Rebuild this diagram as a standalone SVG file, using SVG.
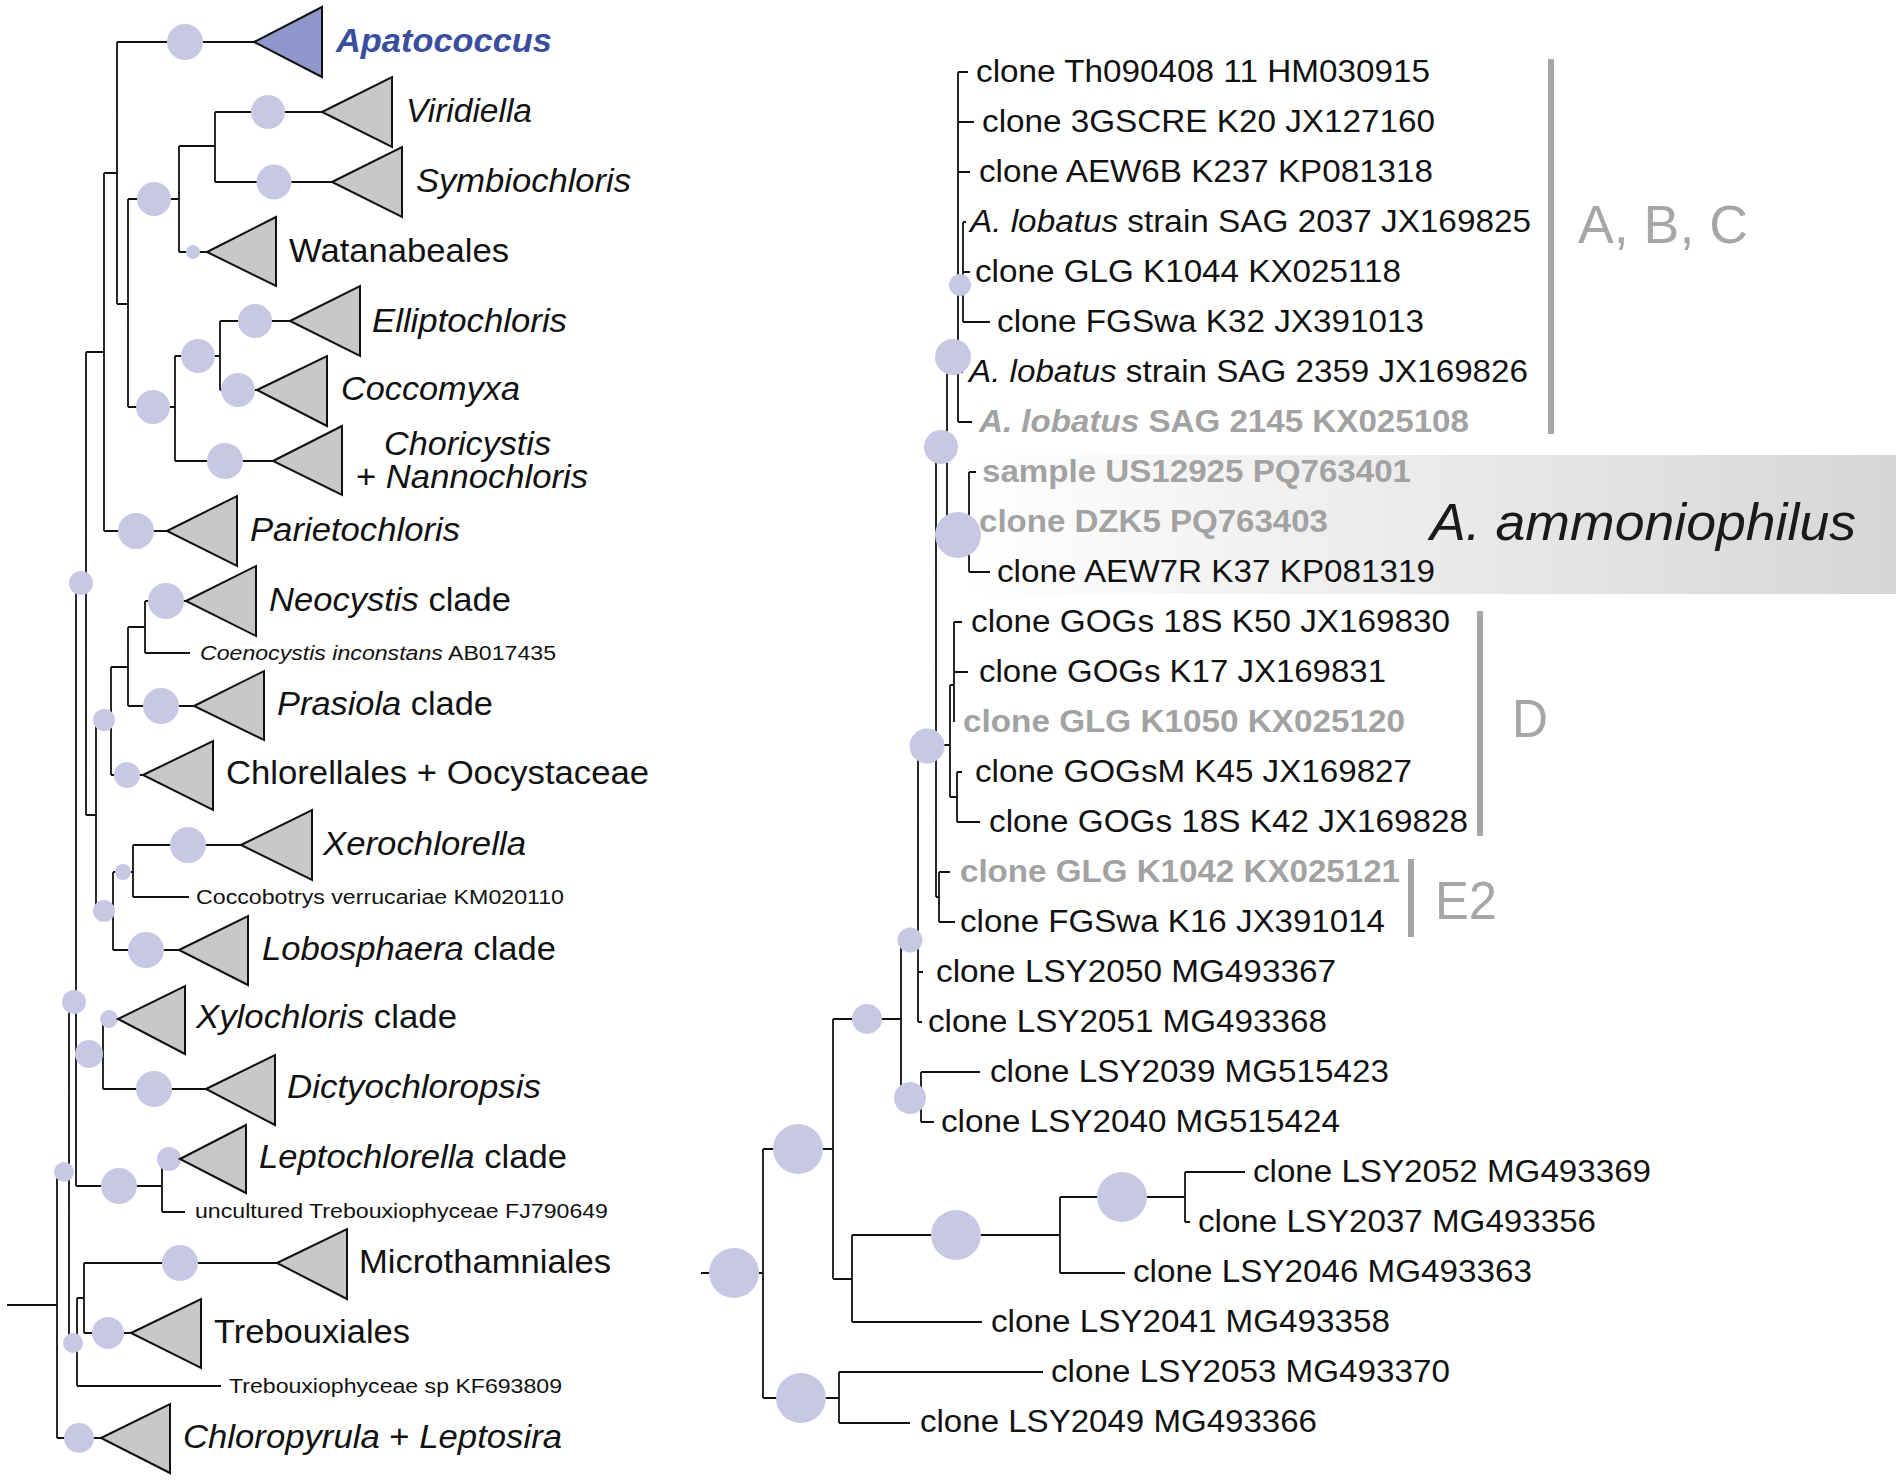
<svg xmlns="http://www.w3.org/2000/svg" width="1902" height="1481" viewBox="0 0 1902 1481">
<defs>
<linearGradient id="band" x1="0" y1="0" x2="1" y2="0">
<stop offset="0" stop-color="#ffffff"/>
<stop offset="0.35" stop-color="#f0f0f0"/>
<stop offset="1" stop-color="#d6d6d6"/>
</linearGradient>
<style>
.ln{stroke:#111;stroke-width:1.8;fill:none}
.nd{fill:#c9c8e4}
.tri{fill:#c8c8c8;stroke:#111;stroke-width:2;stroke-linejoin:miter}
text{font-family:"Liberation Sans",Arial,sans-serif;fill:#111}
.big{font-size:33px}
.sm{font-size:20px}
.lab{font-size:31px}
.it{font-style:italic}
.gb{fill:#a2a2a2;font-weight:bold}
.clade{fill:#a6a6a6;font-size:53px}
.bar{stroke:#a6a6a6;stroke-width:6}
</style>
</defs>
<rect width="1902" height="1481" fill="#fff"/>
<rect id="ammoniophilus-band" x="964" y="455" width="932" height="139" fill="url(#band)"/>

<g id="connectors">
<path class="ln" d="M7,1305H57 M57,1172V1438 M57,1172H69 M57,1438H101
M69,1002V1343 M69,1002H76 M69,1343H77
M76,583V1186 M76,583H86 M76,1054H103 M76,1186H162
M86,352V815 M86,352H104 M86,815H96
M104,173V531 M104,173H117 M104,531H167
M117,42V304 M117,42H254 M117,304H128
M128,199V407 M128,199H179 M128,407H175
M179,146V252 M179,146H215 M179,252H207
M215,112V182 M215,112H322 M215,182H332
M175,356V461 M175,356H220 M175,461H273
M220,321V390 M220,321H290 M220,390H257
M96,720V911 M96,720H111 M96,911H113
M111,667V775 M111,667H128 M111,775H143
M128,627V706 M128,627H145 M128,706H194
M145,601V653 M145,601H186 M145,653H190
M113,872V950 M113,872H133 M113,950H179
M133,845V897 M133,845H241 M133,897H189
M103,1019V1089 M103,1019H118 M103,1089H206
M162,1159V1212 M162,1159H180 M162,1212H185
M77,1298V1386 M77,1298H84 M77,1386H221
M84,1263V1333 M84,1263H277 M84,1333H131"/>
<path class="ln" d="M701,1273H763 M763,1149V1398 M763,1149H833
M833,1019V1279 M833,1019H901
M901,940V1098 M901,940H918
M918,746V1022 M918,745H950 M918,972H923 M918,1022H922
M936,447V897 M936,447H947
M947,357V535 M947,357H958
M958,72V422 M958,72H968 M958,122H974 M958,172H970 M958,372H963 M958,422H972
M958,285H963 M963,222V322 M963,222H966 M963,272H970 M963,322H990
M947,535H969 M969,472V572 M969,472H976 M969,572H990
M950,685V797 M950,685H954 M954,622V722 M954,622H962 M954,672H968
M950,797H957 M957,772V822 M957,772H962 M957,822H980
M936,897H939 M939,872V922 M939,872H950 M939,922H955
M901,1098H921 M921,1072V1122 M921,1072H980 M921,1122H934
M833,1279H852 M852,1235V1322 M852,1235H1060 M1060,1197V1273 M1060,1197H1185 M1185,1172V1222 M1185,1172H1245 M1185,1222H1190 M1060,1273H1125 M852,1322H982
M763,1398H839 M839,1372V1423 M839,1372H1043 M839,1423H910"/>
</g>

<g id="left-support">
<circle class="nd" cx="64" cy="1172" r="10"/>
<circle class="nd" cx="74" cy="1002" r="12"/>
<circle class="nd" cx="73" cy="1343" r="10"/>
<circle class="nd" cx="81" cy="583" r="12"/>
<circle class="nd" cx="89" cy="1054" r="14"/>
<circle class="nd" cx="104" cy="720" r="11"/>
<circle class="nd" cx="104" cy="911" r="11"/>
<circle class="nd" cx="123" cy="872" r="8"/>
<circle class="nd" cx="154" cy="199" r="17"/>
<circle class="nd" cx="153" cy="407" r="17"/>
<circle class="nd" cx="198" cy="356" r="17"/>
<circle class="nd" cx="119" cy="1186" r="18"/>
</g>

<g id="apatococcus"><circle class="nd" cx="185" cy="42" r="18"/><polygon points="254,42 322,7 322,77" fill="#8f98cc" stroke="#111" stroke-width="2"/><text class="big" x="336" y="52" font-weight="bold" font-style="italic" style="fill:#3a4ea0" textLength="216" lengthAdjust="spacingAndGlyphs">Apatococcus</text></g>
<g id="viridiella"><circle class="nd" cx="268" cy="112" r="17"/><polygon class="tri" points="322,112 392,77 392,147"/><text class="big it" x="406" y="122" textLength="126" lengthAdjust="spacingAndGlyphs">Viridiella</text></g>
<g id="symbiochloris"><circle class="nd" cx="274" cy="182" r="17.5"/><polygon class="tri" points="332,182 402,147 402,217"/><text class="big it" x="416" y="192" textLength="215" lengthAdjust="spacingAndGlyphs">Symbiochloris</text></g>
<g id="watanabeales"><circle class="nd" cx="193" cy="252" r="7"/><polygon class="tri" points="207,252 276,217 276,286"/><text class="big" x="289" y="262" textLength="220" lengthAdjust="spacingAndGlyphs">Watanabeales</text></g>
<g id="elliptochloris"><circle class="nd" cx="255" cy="321" r="17"/><polygon class="tri" points="290,321 360,286 360,356"/><text class="big it" x="372" y="332" textLength="195" lengthAdjust="spacingAndGlyphs">Elliptochloris</text></g>
<g id="coccomyxa"><circle class="nd" cx="238" cy="390" r="17"/><polygon class="tri" points="257,390 327,356 327,426"/><text class="big it" x="341" y="400" textLength="179" lengthAdjust="spacingAndGlyphs">Coccomyxa</text></g>
<g id="choricystis"><circle class="nd" cx="225" cy="461" r="18"/><polygon class="tri" points="273,461 342,426 342,495"/><text class="big it" x="384" y="455" textLength="167" lengthAdjust="spacingAndGlyphs">Choricystis</text><text class="big" x="356" y="488" textLength="232" lengthAdjust="spacingAndGlyphs">+ <tspan class="it">Nannochloris</tspan></text></g>
<g id="parietochloris"><circle class="nd" cx="136" cy="531" r="18"/><polygon class="tri" points="167,531 237,496 237,566"/><text class="big it" x="250" y="541" textLength="210" lengthAdjust="spacingAndGlyphs">Parietochloris</text></g>
<g id="neocystis"><circle class="nd" cx="166" cy="601" r="18"/><polygon class="tri" points="186,601 256,566 256,636"/><text class="big" x="269" y="611" textLength="242" lengthAdjust="spacingAndGlyphs"><tspan class="it">Neocystis</tspan> clade</text></g>
<g id="coenocystis"><text class="sm" x="200" y="660" textLength="356" lengthAdjust="spacingAndGlyphs"><tspan class="it">Coenocystis inconstans</tspan> AB017435</text></g>
<g id="prasiola"><circle class="nd" cx="161" cy="706" r="18"/><polygon class="tri" points="194,706 264,671 264,740"/><text class="big" x="277" y="715" textLength="216" lengthAdjust="spacingAndGlyphs"><tspan class="it">Prasiola</tspan> clade</text></g>
<g id="chlorellales"><circle class="nd" cx="127" cy="775" r="13"/><polygon class="tri" points="143,775 213,741 213,810"/><text class="big" x="226" y="784" textLength="423" lengthAdjust="spacingAndGlyphs">Chlorellales + Oocystaceae</text></g>
<g id="xerochlorella"><circle class="nd" cx="188" cy="845" r="18"/><polygon class="tri" points="241,845 312,810 312,880"/><text class="big it" x="323" y="855" textLength="203" lengthAdjust="spacingAndGlyphs">Xerochlorella</text></g>
<g id="coccobotrys"><text class="sm" x="196" y="904" textLength="368" lengthAdjust="spacingAndGlyphs">Coccobotrys verrucariae KM020110</text></g>
<g id="lobosphaera"><circle class="nd" cx="146" cy="950" r="18"/><polygon class="tri" points="179,950 248,916 248,985"/><text class="big" x="262" y="960" textLength="294" lengthAdjust="spacingAndGlyphs"><tspan class="it">Lobosphaera</tspan> clade</text></g>
<g id="xylochloris"><circle class="nd" cx="109" cy="1019" r="9"/><polygon class="tri" points="118,1019 185,986 185,1054"/><text class="big" x="196" y="1028" textLength="261" lengthAdjust="spacingAndGlyphs"><tspan class="it">Xylochloris</tspan> clade</text></g>
<g id="dictyochloropsis"><circle class="nd" cx="154" cy="1089" r="18"/><polygon class="tri" points="206,1089 275,1055 275,1125"/><text class="big it" x="287" y="1098" textLength="254" lengthAdjust="spacingAndGlyphs">Dictyochloropsis</text></g>
<g id="leptochlorella"><circle class="nd" cx="169" cy="1159" r="12"/><polygon class="tri" points="180,1159 246,1125 246,1193"/><text class="big" x="259" y="1168" textLength="308" lengthAdjust="spacingAndGlyphs"><tspan class="it">Leptochlorella</tspan> clade</text></g>
<g id="uncultured"><text class="sm" x="195" y="1218" textLength="413" lengthAdjust="spacingAndGlyphs">uncultured Trebouxiophyceae FJ790649</text></g>
<g id="microthamniales"><circle class="nd" cx="180" cy="1263" r="18"/><polygon class="tri" points="277,1263 347,1229 347,1299"/><text class="big" x="359" y="1273" textLength="252" lengthAdjust="spacingAndGlyphs">Microthamniales</text></g>
<g id="trebouxiales"><circle class="nd" cx="108" cy="1333" r="16"/><polygon class="tri" points="131,1333 201,1299 201,1368"/><text class="big" x="214" y="1343" textLength="196" lengthAdjust="spacingAndGlyphs">Trebouxiales</text></g>
<g id="trebouxiophyceae-sp"><text class="sm" x="229" y="1393" textLength="333" lengthAdjust="spacingAndGlyphs">Trebouxiophyceae sp KF693809</text></g>
<g id="chloropyrula"><circle class="nd" cx="79" cy="1438" r="15"/><polygon class="tri" points="101,1438 170,1404 170,1473"/><text class="big" x="183" y="1448" textLength="379" lengthAdjust="spacingAndGlyphs"><tspan class="it">Chloropyrula</tspan> + <tspan class="it">Leptosira</tspan></text></g>

<g id="right-support">
<circle class="nd" cx="960" cy="285" r="11"/>
<circle class="nd" cx="953" cy="357" r="18"/>
<circle class="nd" cx="941" cy="447" r="17"/>
<circle class="nd" cx="958" cy="535" r="23"/>
<circle class="nd" cx="927" cy="746" r="17.5"/>
<circle class="nd" cx="910" cy="940" r="12.5"/>
<circle class="nd" cx="867" cy="1019" r="15"/>
<circle class="nd" cx="910" cy="1098" r="16"/>
<circle class="nd" cx="734" cy="1273" r="25"/>
<circle class="nd" cx="798" cy="1149" r="25"/>
<circle class="nd" cx="956" cy="1235" r="25"/>
<circle class="nd" cx="1122" cy="1197" r="25"/>
<circle class="nd" cx="801" cy="1398" r="25"/>
</g>

<g id="right-labels">
<text id="r0" class="lab" x="976" y="82" textLength="454" lengthAdjust="spacingAndGlyphs">clone Th090408 11 HM030915</text>
<text id="r1" class="lab" x="982" y="132" textLength="453" lengthAdjust="spacingAndGlyphs">clone 3GSCRE K20 JX127160</text>
<text id="r2" class="lab" x="979" y="182" textLength="454" lengthAdjust="spacingAndGlyphs">clone AEW6B K237 KP081318</text>
<text id="r3" class="lab" x="970" y="232" textLength="561" lengthAdjust="spacingAndGlyphs"><tspan class="it">A. lobatus</tspan> strain SAG 2037 JX169825</text>
<text id="r4" class="lab" x="975" y="282" textLength="426" lengthAdjust="spacingAndGlyphs">clone GLG K1044 KX025118</text>
<text id="r5" class="lab" x="997" y="332" textLength="427" lengthAdjust="spacingAndGlyphs">clone FGSwa K32 JX391013</text>
<text id="r6" class="lab" x="969" y="382" textLength="559" lengthAdjust="spacingAndGlyphs"><tspan class="it">A. lobatus</tspan> strain SAG 2359 JX169826</text>
<text id="r7" class="lab gb" x="979" y="432" textLength="490" lengthAdjust="spacingAndGlyphs"><tspan class="it">A. lobatus</tspan> SAG 2145 KX025108</text>
<text id="r8" class="lab gb" x="982" y="482" textLength="429" lengthAdjust="spacingAndGlyphs">sample US12925 PQ763401</text>
<text id="r9" class="lab gb" x="979" y="532" textLength="349" lengthAdjust="spacingAndGlyphs">clone DZK5 PQ763403</text>
<text id="r10" class="lab" x="997" y="582" textLength="438" lengthAdjust="spacingAndGlyphs">clone AEW7R K37 KP081319</text>
<text id="r11" class="lab" x="971" y="632" textLength="479" lengthAdjust="spacingAndGlyphs">clone GOGs 18S K50 JX169830</text>
<text id="r12" class="lab" x="979" y="682" textLength="407" lengthAdjust="spacingAndGlyphs">clone GOGs K17 JX169831</text>
<text id="r13" class="lab gb" x="963" y="732" textLength="442" lengthAdjust="spacingAndGlyphs">clone GLG K1050 KX025120</text>
<text id="r14" class="lab" x="975" y="782" textLength="437" lengthAdjust="spacingAndGlyphs">clone GOGsM K45 JX169827</text>
<text id="r15" class="lab" x="989" y="832" textLength="479" lengthAdjust="spacingAndGlyphs">clone GOGs 18S K42 JX169828</text>
<text id="r16" class="lab gb" x="960" y="882" textLength="440" lengthAdjust="spacingAndGlyphs">clone GLG K1042 KX025121</text>
<text id="r17" class="lab" x="960" y="932" textLength="425" lengthAdjust="spacingAndGlyphs">clone FGSwa K16 JX391014</text>
<text id="r18" class="lab" x="936" y="982" textLength="400" lengthAdjust="spacingAndGlyphs">clone LSY2050 MG493367</text>
<text id="r19" class="lab" x="928" y="1032" textLength="399" lengthAdjust="spacingAndGlyphs">clone LSY2051 MG493368</text>
<text id="r20" class="lab" x="990" y="1082" textLength="399" lengthAdjust="spacingAndGlyphs">clone LSY2039 MG515423</text>
<text id="r21" class="lab" x="941" y="1132" textLength="399" lengthAdjust="spacingAndGlyphs">clone LSY2040 MG515424</text>
<text id="r22" class="lab" x="1253" y="1182" textLength="398" lengthAdjust="spacingAndGlyphs">clone LSY2052 MG493369</text>
<text id="r23" class="lab" x="1198" y="1232" textLength="398" lengthAdjust="spacingAndGlyphs">clone LSY2037 MG493356</text>
<text id="r24" class="lab" x="1133" y="1282" textLength="399" lengthAdjust="spacingAndGlyphs">clone LSY2046 MG493363</text>
<text id="r25" class="lab" x="991" y="1332" textLength="399" lengthAdjust="spacingAndGlyphs">clone LSY2041 MG493358</text>
<text id="r26" class="lab" x="1051" y="1382" textLength="399" lengthAdjust="spacingAndGlyphs">clone LSY2053 MG493370</text>
<text id="r27" class="lab" x="920" y="1432" textLength="397" lengthAdjust="spacingAndGlyphs">clone LSY2049 MG493366</text>
</g>

<g id="clade-abc"><line class="bar" x1="1551" y1="59" x2="1551" y2="434"/><text class="clade" x="1578" y="243" textLength="170" lengthAdjust="spacingAndGlyphs">A, B, C</text></g>
<g id="clade-ammoniophilus"><text x="1430" y="540" font-size="52" font-style="italic" style="fill:#1a1a1a" textLength="426" lengthAdjust="spacingAndGlyphs">A. ammoniophilus</text></g>
<g id="clade-d"><line class="bar" x1="1480" y1="611" x2="1480" y2="836"/><text class="clade" x="1512" y="737" textLength="36" lengthAdjust="spacingAndGlyphs">D</text></g>
<g id="clade-e2"><line class="bar" x1="1411" y1="859" x2="1411" y2="937"/><text class="clade" x="1435" y="919" textLength="62" lengthAdjust="spacingAndGlyphs">E2</text></g>
</svg>
